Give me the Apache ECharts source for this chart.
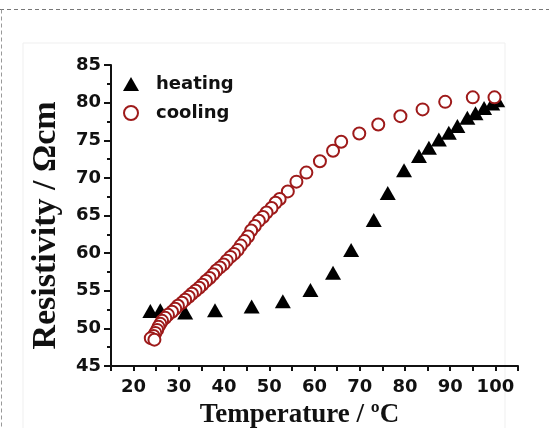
<!DOCTYPE html>
<html>
<head>
<meta charset="utf-8">
<script src="https://cdn.jsdelivr.net/npm/echarts@6/dist/echarts.min.js"></script>
<style>html,body{margin:0;padding:0;background:#fff}#c{width:549px;height:428px}</style>
</head>
<body>
<div id="c"></div>
<script>
// Heating: temperature (°C) and resistivity (Ω·cm)
var heatingT = [23.7, 25.9, 31.4, 38.0, 46.1, 53.0, 59.1, 64.1, 68.1, 73.1, 76.2, 79.8, 83.1, 85.3, 87.5, 89.7, 91.6, 93.8, 95.6, 97.5, 99.3, 100.4];
var heatingR = [52.3, 52.4, 52.1, 52.4, 52.9, 53.6, 55.1, 57.4, 60.4, 64.4, 68.0, 71.0, 72.9, 74.0, 75.1, 76.0, 76.9, 78.0, 78.6, 79.3, 79.9, 80.3];
// Cooling (measured from high to low temperature)
var coolingT = [99.8, 95.0, 88.9, 83.9, 79.0, 74.1, 69.9, 65.9, 64.1, 61.2, 58.2, 56.0, 54.1, 52.3, 51.4, 50.5, 49.4, 48.6, 47.7, 46.8, 46.0, 45.3, 44.5, 43.7, 43.0, 42.2, 41.4, 40.6, 39.9, 39.1, 38.3, 37.6, 36.8, 36.0, 35.2, 34.5, 33.7, 32.9, 32.2, 31.4, 30.7, 29.8, 29.2, 28.5, 27.6, 27.0, 26.3, 25.9, 25.5, 25.2, 24.8, 24.4, 23.8, 24.6];
var coolingR = [80.7, 80.7, 80.1, 79.1, 78.2, 77.1, 75.9, 74.8, 73.6, 72.2, 70.7, 69.5, 68.2, 67.2, 66.7, 66.0, 65.4, 64.8, 64.3, 63.6, 63.0, 62.2, 61.6, 61.0, 60.4, 59.9, 59.5, 59.0, 58.5, 58.1, 57.7, 57.2, 56.7, 56.3, 55.8, 55.4, 55.0, 54.6, 54.2, 53.8, 53.4, 53.0, 52.6, 52.2, 51.8, 51.4, 51.0, 50.6, 50.2, 49.8, 49.4, 49.0, 48.7, 48.5];
var seriesNames = ['heating', 'cooling'];
var xTitle = 'Temperature / \u00baC';
var yTitle = 'Resistivity / \u03a9cm';

function pairs(a, b) { return a.map(function (v, i) { return [v, b[i]]; }); }

var tickFont = { fontFamily: 'DejaVu Sans', fontWeight: 'bold', fontSize: 18, color: '#111' };
var chart = echarts.init(document.getElementById('c'));
chart.setOption({
  animation: false,
  backgroundColor: '#fff',
  graphic: [
    { type: 'rect', shape: { x: 23, y: 43, width: 482, height: 400 }, style: { fill: 'none', stroke: '#efefef', lineWidth: 1 }, silent: true, z: -1 },
    { type: 'line', shape: { x1: 0, y1: 9.5, x2: 549, y2: 9.5 }, style: { stroke: '#777', lineWidth: 1, lineDash: [4, 3] }, silent: true },
    { type: 'line', shape: { x1: 1.5, y1: 9.5, x2: 1.5, y2: 428 }, style: { stroke: '#999', lineWidth: 1, lineDash: [4, 3] }, silent: true }
  ],
  grid: { left: 111, right: 31, top: 65, bottom: 62, outerBoundsMode: 'none', containLabel: false },
  legend: {
    orient: 'vertical', left: 118, top: 70, itemGap: 11,
    itemWidth: 16, itemHeight: 14,
    textStyle: { fontFamily: 'DejaVu Sans', fontWeight: 'bold', fontSize: 18, color: '#111', padding: [0, 0, 0, 12] },
    data: [
      { name: seriesNames[0], icon: 'triangle' },
      { name: seriesNames[1], icon: 'emptyCircle', itemStyle: { borderWidth: 2 } }
    ]
  },
  xAxis: {
    type: 'value', min: 15, max: 105, interval: 5,
    name: xTitle, nameLocation: 'middle', nameGap: 36,
    nameTextStyle: { fontFamily: 'Liberation Serif', fontWeight: 'bold', fontSize: 27, color: '#111', padding: [0, 30, 0, 0] },
    axisLine: { show: true, lineStyle: { color: '#111', width: 2 } },
    axisTick: { show: true, inside: false, length: 5, lineStyle: { color: '#111', width: 2 } },
    axisLabel: Object.assign({ margin: 12, formatter: function (v) { return v % 10 === 0 ? String(v) : ''; } }, tickFont),
    splitLine: { show: false }
  },
  yAxis: {
    type: 'value', min: 45, max: 85, interval: 5,
    name: yTitle, nameLocation: 'middle', nameGap: 48,
    nameTextStyle: { fontFamily: 'Liberation Serif', fontWeight: 'bold', fontSize: 34, color: '#111', padding: [0, 20, 0, 0] },
    axisLine: { show: true, lineStyle: { color: '#111', width: 2 } },
    axisTick: { show: true, inside: false, length: 7, lineStyle: { color: '#111', width: 2 } },
    minorTick: { show: true, splitNumber: 2, length: 4, lineStyle: { color: '#111', width: 2 } },
    axisLabel: Object.assign({ margin: 10 }, tickFont),
    splitLine: { show: false }
  },
  series: [
    {
      name: seriesNames[0], type: 'scatter', symbol: 'triangle', symbolSize: [16, 14],
      itemStyle: { color: '#000', opacity: 1 },
      data: pairs(heatingT, heatingR), z: 2
    },
    {
      name: seriesNames[1], type: 'scatter', symbol: 'emptyCircle', symbolSize: 12,
      itemStyle: { color: '#9e1a1a', borderColor: '#9e1a1a', borderWidth: 2.2, opacity: 1 },
      data: pairs(coolingT, coolingR), z: 3
    }
  ]
});
</script>
</body>
</html>
